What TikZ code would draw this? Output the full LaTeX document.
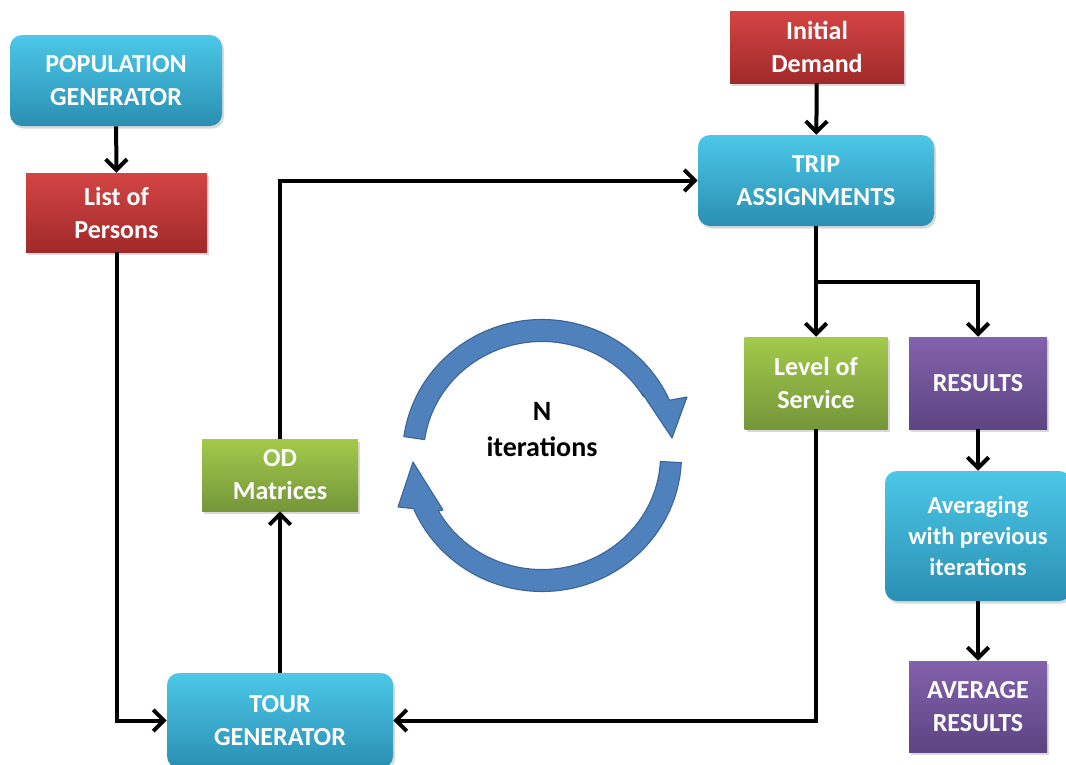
\documentclass[tikz,border=0pt]{standalone}
\usepackage{fontspec}
\setmainfont{Carlito}
\usetikzlibrary{arrows.meta,shadows}
\definecolor{cyanT}{HTML}{4CC8E8}
\definecolor{cyanB}{HTML}{2A8FB2}
\definecolor{redT}{HTML}{D44444}
\definecolor{redB}{HTML}{A02A2A}
\definecolor{greenT}{HTML}{A3CA4B}
\definecolor{greenB}{HTML}{74963A}
\definecolor{purpT}{HTML}{8262AC}
\definecolor{purpB}{HTML}{5D4482}
\definecolor{cycfill}{HTML}{4F81BD}
\definecolor{cycdraw}{HTML}{3A6496}
\tikzset{
  box/.style={draw=none, text=white, font=\bfseries\fontsize{19.5}{24.75}\selectfont,
    align=center, inner sep=0pt,
    drop shadow={opacity=0.3, shadow xshift=1.5pt, shadow yshift=-2pt}},
  cyanbox/.style={box, rounded corners=9pt, top color=cyanT, bottom color=cyanB},
  redbox/.style={box, top color=redT, bottom color=redB},
  greenbox/.style={box, top color=greenT, bottom color=greenB},
  purpbox/.style={box, top color=purpT, bottom color=purpB},
  line/.style={draw=black, line width=3pt},
  conn/.style={line, -{Straight Barb[length=8pt,width=16pt,line width=3pt]}},
  cyc/.style={fill=cycfill, draw=cycdraw, line width=0.8pt, line join=round}
}
\begin{document}
\begin{tikzpicture}[x=0.75pt,y=-0.75pt]
\useasboundingbox (0,0) rectangle (1066,764);
\clip (0,0) rectangle (1066,764);

\node[cyanbox, minimum width=159pt, minimum height=68.25pt] (pop) at (116,80.5) {POPULATION\\GENERATOR};
\node[redbox, minimum width=135.75pt, minimum height=59.25pt] (list) at (116.5,212.5) {List of\\Persons};
\node[redbox, minimum width=130.5pt, minimum height=54pt] (demand) at (817,47) {Initial\\Demand};
\node[cyanbox, minimum width=177pt, minimum height=68.25pt] (trip) at (816,180.5) {TRIP\\ASSIGNMENTS};
\node[greenbox, minimum width=107.25pt, minimum height=69pt] (los) at (816,383) {Level of\\Service};
\node[purpbox, minimum width=103.5pt, minimum height=69pt] (results) at (978,383) {RESULTS};
\node[cyanbox, minimum width=139.5pt, minimum height=97.5pt, font=\bfseries\fontsize{18.4}{23.6}\selectfont] (avg) at (978,536) {Averaging\\with previous\\iterations};
\node[purpbox, minimum width=103.5pt, minimum height=68.25pt] (avgres) at (978,706.5) {AVERAGE\\RESULTS};
\node[greenbox, minimum width=117pt, minimum height=54pt] (od) at (280,475) {OD\\Matrices};
\node[cyanbox, minimum width=169.5pt, minimum height=71.25pt] (tour) at (280,720.5) {TOUR\\GENERATOR};

\node[font=\bfseries\fontsize{21}{27}\selectfont, align=center, inner sep=0pt] (niter) at (542,430) {N\\iterations};

% cycle arrows
\begin{scope}[shift={(542,455.5)}, yscale=-1]
\path[cyc] (172:139.5 and 136) arc[start angle=172, end angle=24, x radius=139.5, y radius=136]
  -- (145,58.5) -- (130,17.5) -- (100,62.5)
  -- (31:118.5 and 114) arc[start angle=31, end angle=172, x radius=118.5, y radius=114] -- cycle;
\path[cyc] (-3:139.5 and 136) arc[start angle=-3, end angle=-157, x radius=139.5, y radius=136]
  -- (-144,-51.5) -- (-129,-6.5) -- (-99,-54.5)
  -- (-151:118.5 and 114) arc[start angle=-151, end angle=-3, x radius=118.5, y radius=114] -- cycle;
\end{scope}

% connectors
\coordinate (br) at (816,282);
\draw[conn] (pop) -- (list);
\draw[conn] (list.south) |- (tour.west);
\draw[conn] (tour.north) -- (od.south);
\draw[conn] (od.north) |- (trip.west);
\draw[conn] (demand) -- (trip);
\draw[line] (trip.south) -- (br);
\draw[conn] (br) -- (los.north);
\draw[conn] (br) -| (results.north);
\draw[conn] (los.south) |- (tour.east);
\draw[conn] (results) -- (avg);
\draw[conn] (avg) -- (avgres);
\end{tikzpicture}
\end{document}
